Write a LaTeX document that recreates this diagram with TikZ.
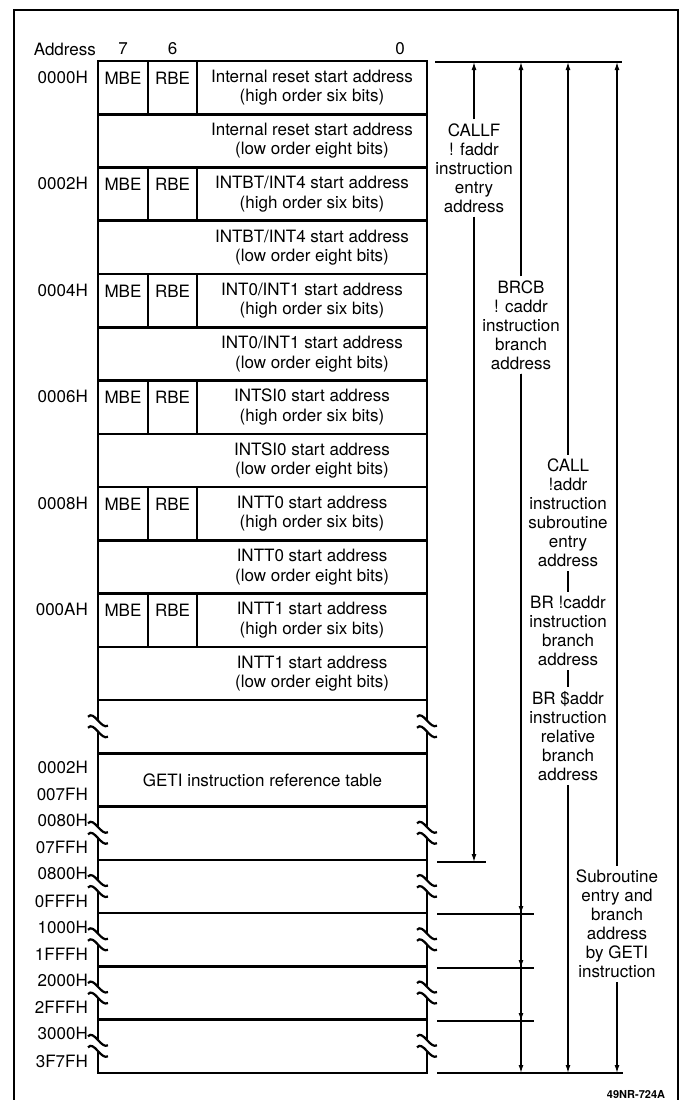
\documentclass[tikz,border=0pt]{standalone}
\usepackage{fontspec}
\setmainfont{TeX Gyre Heros}
\usetikzlibrary{positioning,arrows.meta}
\tikzstyle{cell}=[align=center, inner sep=0pt, font=\fontsize{17}{19.5}\selectfont]
\tikzstyle{addr}=[anchor=east, inner sep=0pt, font=\fontsize{17}{19.5}\selectfont]
\tikzstyle{lbl}=[align=center, inner sep=4pt, font=\fontsize{17}{19}\selectfont]
\tikzstyle{tbl}=[line width=2.6pt]
\tikzstyle{col}=[line width=1.2pt]
\tikzstyle{rng}=[line width=1.3pt]
\tikzset{brk/.pic={
    \fill[white] (-10,-10) .. controls (-4,-17) and (3,3) .. (10,-1) -- (10,10)
        .. controls (3,14) and (-4,-6) .. (-10,1) -- cycle;
    \draw[line width=2.2pt] (-10,-10) .. controls (-4,-17) and (3,3) .. (10,-1);
    \draw[line width=2.2pt] (-10,1) .. controls (-4,-6) and (3,14) .. (10,10);
}}
\def\rh{53.26}

\begin{document}
\begin{tikzpicture}[x=1pt, y=-1pt, >={Latex[length=8pt,width=5pt]}]
    \useasboundingbox (0,0) rectangle (681,1100);
    \draw[line width=1.8pt] (14,1100) -- (14,10) -- (678,10) -- (678,1100);

    % column heads
    \node[cell] (c7) at (123,49) {7};
    \node[cell] (c6) at (172.5,49) {6};
    \node[cell] (c0) at (400,49) {0};
    \node[cell, left=22pt of c7] (hd) {Address};

    % table
    \draw[tbl] (98,61) rectangle (427,1073);
    \foreach \k in {1,...,18}
        \draw[tbl] (98,{61+\k*\rh}) -- (427,{61+\k*\rh});

    \foreach \nm/\ad [count=\i from 0] in {Internal reset/0000H,
            {INTBT/INT4}/0002H, {INT0/INT1}/0004H, INTSI0/0006H,
            INTT0/0008H, INTT1/000AH} {
        \pgfmathsetmacro\tp{61+2*\i*\rh}
        \node[addr] (a\i) at (88,\tp+16) {\ad};
        \node[cell] (m\i) at (123,\tp+17) {MBE};
        \node[cell] (r\i) at (172.5,\tp+17) {RBE};
        \draw[col] (148,\tp) -- (148,\tp+\rh);
        \draw[col] (197,\tp) -- (197,\tp+\rh);
        \node[cell] (hi\i) at (312,\tp+0.5*\rh)
            {{\nm} start address\\(high order six bits)};
        \node[cell] (lo\i) at (312,\tp+1.5*\rh)
            {{\nm} start address\\(low order eight bits)};
    }

    \node[cell] (tab) at (262.5,{61+13.5*\rh}) {GETI instruction reference table};
    \foreach \ua/\la/\k in {0002H/007FH/13, 0080H/07FFH/14, 0800H/0FFFH/15,
            1000H/1FFFH/16, 2000H/2FFFH/17, 3000H/3F7FH/18} {
        \node[addr] (u\k) at (88,{61+\k*\rh+14}) {\ua};
        \node[addr] (d\k) at (88,{61+(\k+1)*\rh-12}) {\la};
    }
    \foreach \k in {12,14,15,16,17,18} {
        \pic at (98,{61+(\k+0.5)*\rh}) {brk};
        \pic at (427,{61+(\k+0.5)*\rh}) {brk};
    }

    % ranges
    \coordinate (tl) at (435,62);
    \coordinate (tr) at (622,62);
    \draw[rng] (tl) -- (tr);
    \foreach \xx [count=\j] in {474,521,568,617}
        \coordinate (t\j) at (\xx,62);

    \node[lbl] (callf) at (474,168) {CALLF\\! faddr\\instruction\\entry\\address};
    \node[lbl] (brcb) at (521,325) {BRCB\\! caddr\\instruction\\branch\\address};
    \node[lbl] (call) at (568,513)
        {CALL\\!addr\\instruction\\subroutine\\entry\\address};
    \node[lbl] (brc) at (568,631) {BR !caddr\\instruction\\branch\\address};
    \node[lbl] (brs) at (568,736) {BR \$addr\\instruction\\relative\\branch\\address};
    \node[lbl] (gt) at (617,924)
        {Subroutine\\entry and\\branch\\address\\by GETI\\instruction};

    \coordinate (b1) at (474,862);
    \coordinate (b3) at (568,1073);
    \coordinate (b4) at (617,1073);
    \foreach \yy [count=\j] in {914,968,1021,1073}
        \coordinate (q\j) at (521,\yy);

    \draw[rng,->] (callf) -- (t1);
    \draw[rng,->] (callf) -- (b1);
    \draw[rng,->] (brcb) -- (t2);
    \foreach \j in {1,...,4}
        \draw[rng,->] (brcb) -- (q\j);
    \draw[rng,->] (call) -- (t3);
    \draw[rng] (call) -- (brc);
    \draw[rng] (brc) -- (brs);
    \draw[rng,->] (brs) -- (b3);
    \draw[rng,->] (gt) -- (t4);
    \draw[rng,->] (gt) -- (b4);

    % ends of the ranges
    \coordinate (e0) at (437,862);
    \coordinate (f0) at (486,862);
    \draw[rng] (e0) -- (f0);
    \foreach \yy [count=\j] in {914,968,1021} {
        \coordinate (e\j) at (437,\yy);
        \coordinate (f\j) at (534,\yy);
        \draw[rng] (e\j) -- (f\j);
    }
    \coordinate (e4) at (437,1073);
    \coordinate (f4) at (623,1073);
    \draw[rng] (e4) -- (f4);

    \node[font=\fontsize{11}{12}\selectfont\bfseries] (tag) at (636,1095) {49NR-724A};
\end{tikzpicture}
\end{document}
